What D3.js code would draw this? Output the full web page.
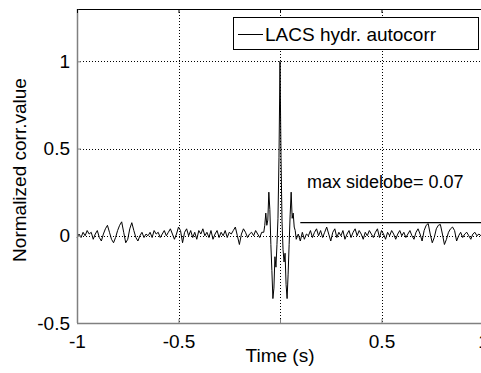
<!DOCTYPE html>
<html>
<head>
<meta charset="utf-8">
<script src="https://cdn.jsdelivr.net/npm/d3@7"></script>
<style>
  body { margin: 0; background: #fff; }
  text { font-family: "Liberation Sans", Arial, sans-serif; fill: #000; }
</style>
</head>
<body>
<script>
// correlation values
// left noise: t = -1.00 .. -0.09, step 0.01
var leftNoise = [-0.01, 0.01, -0.01, 0.02, 0.00, 0.03, 0.01, 0.02, -0.02, 0.01,
  0.03, -0.01, -0.03, 0.01, 0.04, 0.06, 0.02, -0.02, -0.04, -0.01,
  0.03, 0.06, 0.08, 0.02, -0.04, -0.02, 0.04, 0.075, 0.03, -0.01,
  -0.03, 0.00, 0.02, -0.01, 0.01, 0.00, 0.02, -0.01, 0.03, 0.01,
  0.02, -0.01, 0.01, 0.03, 0.00, 0.02, 0.04, 0.01, -0.02, 0.01,
  0.05, 0.03, -0.04, 0.02, 0.04, 0.00, 0.03, -0.01, 0.02, -0.02,
  0.03, 0.01, 0.04, 0.00, 0.02, -0.01, 0.03, -0.02, 0.01, 0.03,
  -0.01, 0.02, 0.00, 0.03, -0.01, 0.02, 0.01, 0.03, 0.05, 0.00,
  -0.05, 0.01, 0.04, 0.02, -0.01, 0.01, 0.02, 0.00, 0.03, 0.01,
  -0.01, 0.02];
// main lobe: t = -0.08 .. 0.08, step 0.005
var mainLobe = [0.02, 0.06, 0.13, 0.06, 0.09, 0.25, 0.15, -0.05, -0.20, -0.36,
  -0.30, -0.12, -0.18, -0.05, 0.10, 0.45, 1.00, 0.45, 0.08, -0.08,
  -0.15, -0.10, -0.28, -0.36, -0.22, -0.05, 0.12, 0.25, 0.10, 0.13,
  0.05, 0.03, -0.02];
// right noise: t = 0.09 .. 1.00, step 0.01
var rightNoise = [0.01, -0.03, 0.02, -0.02, 0.01, 0.00, 0.03, -0.01, 0.02, 0.04,
  0.00, 0.03, -0.01, 0.02, 0.05, 0.01, -0.03, 0.02, 0.04, -0.01,
  0.02, 0.00, 0.03, -0.02, 0.01, 0.03, -0.01, 0.02, 0.04, 0.00,
  0.03, 0.01, -0.02, 0.02, 0.00, 0.03, 0.01, -0.01, 0.02, 0.04,
  -0.01, 0.03, 0.01, -0.02, 0.02, 0.00, 0.03, 0.01, -0.02, 0.01,
  0.03, 0.00, 0.02, -0.01, 0.01, 0.03, 0.00, -0.02, 0.02, 0.04,
  0.01, -0.03, 0.03, 0.06, 0.07, 0.01, -0.04, -0.01, 0.04, 0.06,
  0.065, 0.01, -0.05, -0.02, 0.02, 0.04, 0.05, 0.03, -0.03, 0.00,
  0.02, -0.01, 0.01, 0.02, 0.00, -0.02, 0.01, 0.02, 0.00, 0.01,
  0.00, -0.01];

var xTicks = [-1, -0.5, 0, 0.5, 1];
var yTicks = [-0.5, 0, 0.5, 1];
var maxSidelobe = 0.075;
var sidelobeStart = 0.1;
var legendLabel = 'LACS hydr. autocorr';

// build (t, r) pairs
var data = [];
leftNoise.forEach(function(v, i){ data.push([-1 + i * 0.01, v]); });
mainLobe.forEach(function(v, i){ data.push([-0.08 + i * 0.005, v]); });
rightNoise.forEach(function(v, i){ data.push([0.09 + i * 0.01, v]); });

var W = 481, H = 373;
var plotL = 77, plotT = 9, plotR = 483, plotB = 323;

var svg = d3.select('body').append('svg')
  .attr('width', W).attr('height', H);

var x = d3.scaleLinear().domain([-1, 1]).range([plotL, plotR]);
var y = d3.scaleLinear().domain([-0.5, 1.3]).range([plotB, plotT]);

// grid
svg.append('g').selectAll('line')
  .data(xTicks.filter(function(d){ return d > -1 && d < 1; }))
  .enter().append('line')
  .attr('x1', function(d){ return Math.round(x(d)) + 0.5; })
  .attr('x2', function(d){ return Math.round(x(d)) + 0.5; })
  .attr('y1', plotT).attr('y2', plotB)
  .attr('stroke', '#000').attr('stroke-dasharray', '1,2');

svg.append('g').selectAll('line')
  .data(yTicks.filter(function(d){ return d > -0.5; }))
  .enter().append('line')
  .attr('y1', function(d){ return Math.round(y(d)) + 0.5; })
  .attr('y2', function(d){ return Math.round(y(d)) + 0.5; })
  .attr('x1', plotL).attr('x2', plotR)
  .attr('stroke', '#000').attr('stroke-dasharray', '1,2');

// signal
var line = d3.line()
  .x(function(d){ return x(d[0]); })
  .y(function(d){ return y(d[1]); });

svg.append('path')
  .datum(data)
  .attr('d', line)
  .attr('fill', 'none')
  .attr('stroke', '#000')
  .attr('stroke-width', 1);

// sidelobe level
svg.append('line')
  .attr('x1', x(sidelobeStart)).attr('x2', plotR)
  .attr('y1', y(maxSidelobe)).attr('y2', y(maxSidelobe))
  .attr('stroke', '#000').attr('stroke-width', 1.2);

svg.append('text')
  .attr('x', 307).attr('y', 188)
  .style('font-size', '18px')
  .text('max sidelobe= 0.07');

// axes box
svg.append('line')
  .attr('x1', plotL).attr('x2', plotR).attr('y1', plotT + 0.5).attr('y2', plotT + 0.5)
  .attr('stroke', '#000');
svg.append('line')
  .attr('x1', plotL + 0.5).attr('x2', plotL + 0.5).attr('y1', plotT).attr('y2', plotB)
  .attr('stroke', '#808080').attr('stroke-width', 1.5);
svg.append('line')
  .attr('x1', plotL).attr('x2', plotR).attr('y1', plotB + 0.5).attr('y2', plotB + 0.5)
  .attr('stroke', '#808080').attr('stroke-width', 1.5);

// axes with inward ticks; the "0" label sits under the xlabel in the original
var xAxis = d3.axisBottom(x).tickValues(xTicks).tickSize(-4).tickSizeOuter(0)
  .tickPadding(12).tickFormat(function(d){ return d === 0 ? '' : d; });
var gx = svg.append('g')
  .attr('transform', 'translate(0,' + plotB + ')')
  .call(xAxis);
gx.select('.domain').remove();
gx.selectAll('line').attr('stroke', '#808080');
gx.selectAll('text').style('font-size', '19px').attr('dy', '0.71em');

var gxTop = svg.append('g')
  .attr('transform', 'translate(0,' + plotT + ')')
  .call(d3.axisTop(x).tickValues(xTicks).tickSize(-4).tickSizeOuter(0).tickFormat(''));
gxTop.select('.domain').remove();
gxTop.selectAll('line').attr('stroke', '#000');

var yAxis = d3.axisLeft(y).tickValues(yTicks).tickSize(-4).tickSizeOuter(0)
  .tickPadding(7).tickFormat(function(d){ return d; });
var gy = svg.append('g')
  .attr('transform', 'translate(' + plotL + ',0)')
  .call(yAxis);
gy.select('.domain').remove();
gy.selectAll('line').attr('stroke', '#808080');
gy.selectAll('text').style('font-size', '19px');

// axis labels
svg.append('text')
  .attr('x', 280).attr('y', 362)
  .attr('text-anchor', 'middle')
  .style('font-size', '19px')
  .text('Time (s)');

svg.append('text')
  .attr('transform', 'translate(26,' + ((plotT + plotB) / 2 + 4) + ') rotate(-90)')
  .attr('text-anchor', 'middle')
  .style('font-size', '19px')
  .text('Normalized corr.value');

// legend
var lg = svg.append('g');
lg.append('rect')
  .attr('x', 233.5).attr('y', 17.5).attr('width', 245).attr('height', 32)
  .attr('fill', '#fff').attr('stroke', '#000');
lg.append('line')
  .attr('x1', 238).attr('x2', 263).attr('y1', 34.5).attr('y2', 34.5)
  .attr('stroke', '#000');
lg.append('text')
  .attr('x', 265).attr('y', 41)
  .style('font-size', '19px')
  .text(legendLabel);
</script>
</body>
</html>
